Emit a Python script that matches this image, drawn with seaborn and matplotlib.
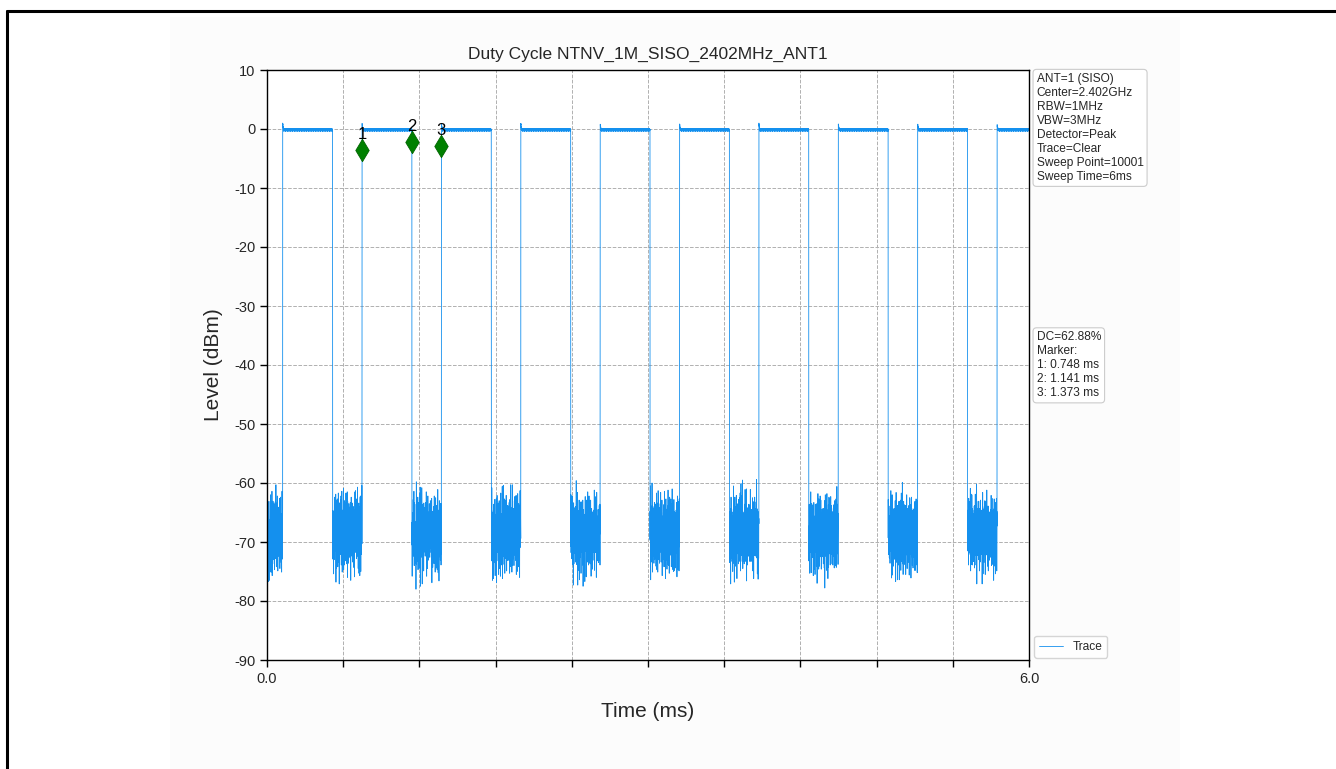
import numpy as np
import pandas as pd
import matplotlib
matplotlib.use("Agg")
import matplotlib.pyplot as plt
from matplotlib.lines import Line2D
from matplotlib.patches import Rectangle
import seaborn as sns

# Sweep settings
sweep_points = 10001
sweep_ms = 6.0

# Burst edges (ms)
burst_start_ms = [0.123, 0.748, 1.373, 1.998, 2.623, 3.248, 3.873, 4.498, 5.123, 5.748]
burst_stop_ms = [0.516, 1.141, 1.766, 2.391, 3.016, 3.641, 4.266, 4.891, 5.516, 6.0]

# Level at burst start (small overshoot), ripple on top, noise floor when off
on_overshoot_db = [1.0, 0.9, 0.8, 0.7, 0.6, 0.5, 0.45, 0.4, 0.35, 0.3, 0.25, 0.2]
on_ripple_db = [0.0, -0.2, 0.05, -0.3, -0.1, 0.0, -0.25, -0.15, -0.05, -0.35, -0.05, -0.2,
                0.05, -0.25, -0.1, -0.4, -0.05, 0.0, -0.2, -0.15, 0.0, -0.3, -0.1]
noise_floor_dbm = [
    -67.2, -68.9, -66.1, -70.3, -68.0, -65.4, -69.7, -71.8, -67.5, -64.9,
    -68.6, -72.4, -69.1, -66.3, -63.8, -67.9, -70.6, -68.2, -74.9, -69.4,
    -66.8, -65.1, -68.7, -71.2, -67.0, -62.7, -66.5, -69.8, -68.4, -70.9,
    -73.6, -68.8, -66.0, -67.7, -64.6, -69.3, -71.5, -67.3, -65.8, -68.1,
    -70.2, -75.1, -69.0, -66.7, -68.5, -65.2, -62.4, -67.1, -69.9, -72.7,
    -68.3, -66.4, -70.0, -67.6, -64.2, -68.9, -71.0, -69.5, -66.2, -73.3,
    -67.4, -65.6, -68.0, -70.7, -66.9, -63.5, -67.8, -69.2, -74.4, -68.6,
    -66.6, -70.4, -67.2, -64.8, -69.6, -72.1, -68.2, -65.9, -67.0, -62.0,
    -66.3, -69.4, -71.6, -68.7, -66.1, -70.8, -67.5, -64.4, -68.4, -73.9,
    -69.1, -66.8, -65.3, -68.0, -70.5, -67.9, -63.1, -66.6, -69.7, -75.3,
    -68.5, -67.1, -65.7, -70.1, -68.8, -66.4, -71.9, -67.6, -64.0, -69.0,
    -72.8, -68.3, -66.0, -67.4, -70.3, -65.0, -68.6, -62.9, -67.2, -69.8,
    -71.3, -66.9, -68.1, -74.2, -67.7, -65.5, -69.3, -68.0, -66.5, -70.6,
    -64.3, -67.0, -69.5, -72.3, -68.2, -66.2, -63.3, -67.8, -70.9, -68.7,
    -66.7, -69.2, -74.9, -67.3, -65.2, -68.4, -70.2, -66.8, -63.7, -68.9, -71.1,
]
# extra scatter on the noise floor (dB), read as the spread of the peaks
noise_jitter_db = [0.0, 1.2, -0.8, 2.4, -1.5, 0.4, -2.2, 0.9, 0.0, -0.6, 1.8,
                   -2.6, 0.3, 1.1, -1.0, 2.9, -0.3, 0.6, -1.8, 0.0, 1.5, -0.9,
                   0.2, -2.0, 2.1, -0.4, 0.8, -1.3, 0.0, 1.6, -2.9, 0.5, -0.7,
                   1.0, -1.6, 2.6, -0.2, 0.7, -1.1, 0.1, 1.3]

# Markers
marker_ms = [0.748, 1.141, 1.373]
marker_dbm = [-3.6, -2.2, -2.9]
marker_labels = ["1", "2", "3"]

x_ticks = [0.0, 0.6, 1.2, 1.8, 2.4, 3.0, 3.6, 4.2, 4.8, 5.4, 6.0]
x_tick_labels = ["0.0", "", "", "", "", "", "", "", "", "", "6.0"]
y_ticks = [10, 0, -10, -20, -30, -40, -50, -60, -70, -80, -90]

info_text = ("ANT=1 (SISO)\nCenter=2.402GHz\nRBW=1MHz\nVBW=3MHz\nDetector=Peak\n"
             "Trace=Clear\nSweep Point=10001\nSweep Time=6ms")
result_text = "DC=62.88%\nMarker:\n1: 0.748 ms\n2: 1.141 ms\n3: 1.373 ms"

trace_color = "#1490ee"

# Build the trace from the read-off pieces
t_ms = np.linspace(0, sweep_ms, sweep_points)
level = np.empty(sweep_points)
on_mask = np.zeros(sweep_points, dtype=bool)
k_rip = 0
for s, e in zip(burst_start_ms, burst_stop_ms):
    i0 = np.searchsorted(t_ms, s)
    i1 = np.searchsorted(t_ms, e, side="right") if e >= sweep_ms else np.searchsorted(t_ms, e)
    for n, i in enumerate(range(i0, i1)):
        rip = on_ripple_db[k_rip % len(on_ripple_db)]
        k_rip += 1
        over = on_overshoot_db[n] if n < len(on_overshoot_db) else 0.0
        level[i] = over + rip
        on_mask[i] = True
k_noise = 0
for i in np.where(~on_mask)[0]:
    level[i] = (noise_floor_dbm[k_noise % len(noise_floor_dbm)]
                + noise_jitter_db[k_noise % len(noise_jitter_db)])
    k_noise += 1

df = pd.DataFrame({"Time (ms)": t_ms, "Level (dBm)": level})

sns.set_theme(style="ticks")
plt.rcParams["font.family"] = ["Liberation Sans", "DejaVu Sans"]
plt.rcParams["axes.unicode_minus"] = False

fig = plt.figure(figsize=(13.36, 7.69), dpi=100)
fig.patch.set_facecolor("white")
fig.add_artist(Rectangle((170 / 1336, 0), 1010 / 1336, 1 - 17 / 769,
                         transform=fig.transFigure, facecolor="#fcfcfc", edgecolor="none", zorder=-10))
fig.add_artist(Line2D([7 / 1336, 1.0], [1 - 11 / 769, 1 - 11 / 769], color="black", lw=2.2))
fig.add_artist(Line2D([7 / 1336, 7 / 1336], [0, 1 - 11 / 769], color="black", lw=2.2))

ax = fig.add_axes([267 / 1336, 1 - 660 / 769, 762 / 1336, 590 / 769])
ax.set_facecolor("white")

sns.lineplot(data=df, x="Time (ms)", y="Level (dBm)", color=trace_color, lw=0.6,
             estimator=None, sort=False, label="Trace", ax=ax)
sns.scatterplot(x=marker_ms, y=marker_dbm, marker="d", s=130, color="green",
                edgecolor="darkgreen", linewidth=0.6, zorder=5, legend=False, ax=ax)
for mx, my, lab in zip(marker_ms, marker_dbm, marker_labels):
    ax.annotate(lab, (mx, my), xytext=(0, 6), textcoords="offset points",
                ha="center", va="bottom", fontsize=12, color="black")

ax.set_xlim(0, 6)
ax.set_ylim(-90, 10)
ax.set_xticks(x_ticks)
ax.set_xticklabels(x_tick_labels)
ax.set_yticks(y_ticks)
ax.tick_params(labelsize=10.5, direction="out", length=5, width=1, color="black")
ax.grid(True, ls="--", color="#b0b0b0", lw=0.7)
for sp in ax.spines.values():
    sp.set_color("black")
    sp.set_linewidth(1.0)

ax.set_title("Duty Cycle NTNV_1M_SISO_2402MHz_ANT1", fontsize=12.5, pad=8)
ax.set_xlabel("Time (ms)", fontsize=15, labelpad=12)
ax.set_ylabel("Level (dBm)", fontsize=15, labelpad=8)

box = dict(boxstyle="round,pad=0.3", facecolor="white", edgecolor="#cccccc", lw=0.8)
ax.text(1.01, 0.995, info_text, transform=ax.transAxes, ha="left", va="top",
        fontsize=8.6, linespacing=1.22, bbox=box)
ax.text(1.01, 0.557, result_text, transform=ax.transAxes, ha="left", va="top",
        fontsize=8.6, linespacing=1.22, bbox=box)

ax.legend(loc="lower left", bbox_to_anchor=(1.004, 0.0), borderaxespad=0.2,
          fontsize=8.6, frameon=True, fancybox=True, edgecolor="#cccccc")

fig.savefig("out.png", dpi=100)
